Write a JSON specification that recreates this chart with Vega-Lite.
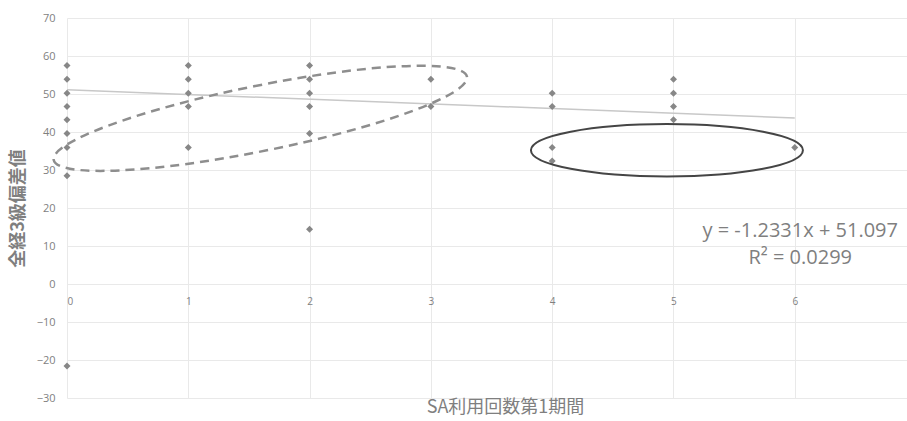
{
  "$schema": "https://vega.github.io/schema/vega-lite/v6.json",
  "autosize": "none",
  "width": 876,
  "height": 380,
  "padding": {"left": 67, "top": 18, "right": 0, "bottom": 23},
  "background": "white",
  "config": {
    "view": {"stroke": null},
    "font": "Open Sans",
    "axis": {"gridColor": "#e9e9e9", "gridWidth": 1, "labelColor": "#7f7f7f", "labelFontSize": 11, "labelFont": "Open Sans", "titleColor": "#7f7f7f", "titleFont": "Noto Sans CJK JP", "domain": false, "ticks": false}
  },
  "datasets": {
    "pts": [
      {"n": 0, "dev": 57.5}, {"n": 0, "dev": 53.9}, {"n": 0, "dev": 50.2}, {"n": 0, "dev": 46.7}, {"n": 0, "dev": 43.2}, {"n": 0, "dev": 39.6}, {"n": 0, "dev": 35.9}, {"n": 0, "dev": 28.5}, {"n": 0, "dev": -21.6},
      {"n": 1, "dev": 57.5}, {"n": 1, "dev": 53.9}, {"n": 1, "dev": 50.2}, {"n": 1, "dev": 46.7}, {"n": 1, "dev": 35.9},
      {"n": 2, "dev": 57.5}, {"n": 2, "dev": 53.9}, {"n": 2, "dev": 50.2}, {"n": 2, "dev": 46.7}, {"n": 2, "dev": 39.6}, {"n": 2, "dev": 14.4},
      {"n": 3, "dev": 53.9}, {"n": 3, "dev": 46.7},
      {"n": 4, "dev": 50.2}, {"n": 4, "dev": 46.7}, {"n": 4, "dev": 35.9}, {"n": 4, "dev": 32.4},
      {"n": 5, "dev": 53.9}, {"n": 5, "dev": 50.2}, {"n": 5, "dev": 46.7}, {"n": 5, "dev": 43.2},
      {"n": 6, "dev": 35.9}
    ],
    "trend": [{"n": 0, "dev": 51.097}, {"n": 6, "dev": 43.698}],
    "dashedRing": [{"n": 1.594, "dev": 43.6}],
    "solidRing": [{"n": 4.946, "dev": 35.2}],
    "notes": [
      {"n": 6.045, "dev": 14.0, "label": "y = -1.2331x + 51.097"},
      {"n": 6.045, "dev": 6.8, "label": "R² = 0.0299"}
    ]
  },
  "encoding": {
    "x": {"field": "n", "type": "quantitative", "scale": {"domain": [0, 7.222], "nice": false, "zero": false},
      "axis": {"title": "SA利用回数第1期間", "values": [0, 1, 2, 3, 4, 5, 6], "offset": -114.5, "labelPadding": 13, "titlePadding": 92, "titleFontSize": 18, "titleFontWeight": "normal", "labelFontSize": 10}},
    "y": {"field": "dev", "type": "quantitative", "scale": {"domain": [-30, 70], "nice": false},
      "axis": {"title": "全経3級偏差値", "values": [-30, -20, -10, 0, 10, 20, 30, 40, 50, 60, 70], "labelPadding": 12, "titlePadding": 9, "titleFontSize": 18, "titleFontWeight": "bold"}}
  },
  "layer": [
    {"data": {"name": "trend"}, "mark": {"type": "line", "color": "#c8c8c8", "strokeWidth": 1.5}},
    {"data": {"name": "pts"}, "mark": {"type": "point", "shape": "diamond", "filled": true, "size": 49, "color": "#878787", "opacity": 1}},
    {"data": {"name": "dashedRing"}, "mark": {"type": "point", "shape": "M-1,0A1,0.155,0,1,0,1,0A1,0.155,0,1,0,-1,0Z", "filled": false, "size": 177742, "angle": 348.6, "color": "#8e8e8e", "strokeWidth": 2.5, "strokeDash": [9, 6], "opacity": 1}},
    {"data": {"name": "solidRing"}, "mark": {"type": "point", "shape": "M-1,0A1,0.193,0,1,0,1,0A1,0.193,0,1,0,-1,0Z", "filled": false, "size": 73984, "color": "#454545", "strokeWidth": 2, "opacity": 1}},
    {"data": {"name": "notes"}, "mark": {"type": "text", "font": "Open Sans", "fontSize": 20, "color": "#7f7f7f", "align": "center", "baseline": "middle"}, "encoding": {"text": {"field": "label"}}}
  ]
}
